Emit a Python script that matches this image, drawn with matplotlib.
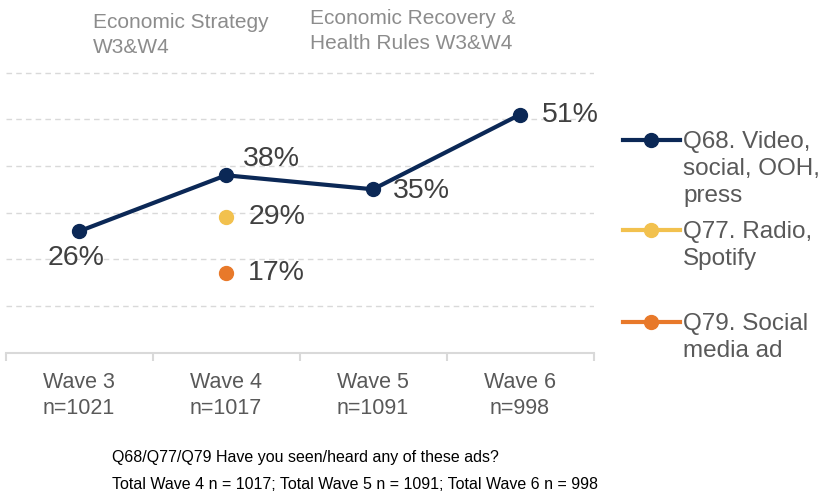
import matplotlib.pyplot as plt
from matplotlib.lines import Line2D
import numpy as np

plt.rcParams['font.family'] = ['Liberation Sans', 'DejaVu Sans']

waves = ["Wave 3\nn=1021", "Wave 4\nn=1017", "Wave 5\nn=1091", "Wave 6\nn=998"]
q68 = [26, 38, 35, 51]
q77 = [np.nan, 29, np.nan, np.nan]
q79 = [np.nan, 17, np.nan, np.nan]

series_labels = ["Q68. Video,\nsocial, OOH,\npress", "Q77. Radio,\nSpotify", "Q79. Social\nmedia ad"]
colors = ["#0B2856", "#F2C14E", "#E8792A"]

# label offsets (points) and alignment per point
q68_offsets = [((-2, -19), "center"), ((12, 12), "left"), ((14, -1), "left"), ((16, 0), "left")]

fig = plt.figure(figsize=(8.21, 4.92), dpi=100)
ax = fig.add_axes([0.0067, 0.2831, 0.7162, 0.5884])

x = np.arange(len(waves))
ax.plot(x, q68, color=colors[0], lw=3, marker="o", ms=10, zorder=3)
ax.plot(x, q77, color=colors[1], lw=3, marker="o", ms=10, zorder=3)
ax.plot(x, q79, color=colors[2], lw=3, marker="o", ms=10, zorder=3)

for xi, v, (off, ha) in zip(x, q68, q68_offsets):
    ax.annotate(f"{v}%", (xi, v), xytext=off, textcoords="offset points",
                ha=ha, va="center", fontsize=20.5, color="#404040")
for s in (q77, q79):
    for xi, v in zip(x, s):
        if not np.isnan(v):
            ax.annotate(f"{v:.0f}%", (xi, v), xytext=(16, 0), textcoords="offset points",
                        ha="left", va="center", fontsize=20.5, color="#404040")

ax.set_xlim(-0.5, len(waves) - 0.5)
ax.set_ylim(0, 62)
ax.set_yticks(range(10, 61, 10))
ax.yaxis.grid(True, linestyle=(0, (4, 3)), color="#D9D9D9", lw=1)
ax.tick_params(axis="y", left=False, labelleft=False)
ax.set_axisbelow(True)

ax.set_xticks(x)
ax.set_xticklabels(waves, fontsize=15.5, color="#595959", linespacing=1.3)
ax.set_xticks(np.arange(-0.5, len(waves)), minor=True)
ax.tick_params(axis="x", which="major", length=0, pad=14)
ax.tick_params(axis="x", which="minor", length=6, color="#D9D9D9", width=1.5)

for sp in ["top", "right", "left"]:
    ax.spines[sp].set_visible(False)
ax.spines["bottom"].set_color("#D9D9D9")
ax.spines["bottom"].set_linewidth(1.5)

# wave group notes at the top
fig.text(0.113, 0.973, "Economic Strategy\nW3&W4", fontsize=15, color="#8C8C8C",
         va="top", linespacing=1.4)
fig.text(0.378, 0.981, "Economic Recovery &\nHealth Rules W3&W4", fontsize=15, color="#8C8C8C",
         va="top", linespacing=1.4)

# legend on the right
legend_y = [0.7154, 0.5325, 0.3455]
for lab, col, y in zip(series_labels, colors, legend_y):
    fig.add_artist(Line2D([0.759, 0.828], [y, y], transform=fig.transFigure, color=col, lw=3))
    fig.add_artist(Line2D([0.793], [y], transform=fig.transFigure, color=col, marker="o", ms=10))
    fig.text(0.832, y + 0.018, lab, fontsize=17.5, color="#595959", va="top", linespacing=1.28)

# footnotes
fig.text(0.136, 0.061, "Q68/Q77/Q79 Have you seen/heard any of these ads?", fontsize=11.5, color="#000000")
fig.text(0.136, 0.006, "Total Wave 4 n = 1017; Total Wave 5 n = 1091; Total Wave 6 n = 998",
         fontsize=11.5, color="#000000")

fig.savefig("out.png", dpi=100)
